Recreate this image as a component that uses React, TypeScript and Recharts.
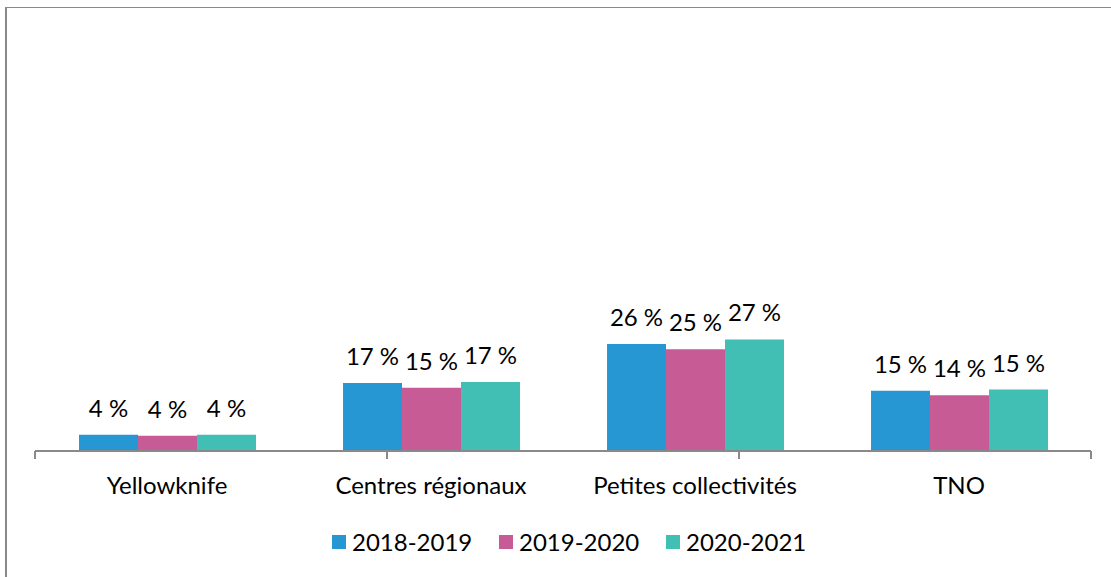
import React from "react";
import { BarChart, Bar, XAxis, YAxis, LabelList, Legend } from "recharts";

const categories = ["Yellowknife", "Centres régionaux", "Petites collectivités", "TNO"];
const seriesNames = ["2018-2019", "2019-2020", "2020-2021"];
const values2018 = [3.97, 16.6, 26.1, 14.7];
const values2019 = [3.73, 15.4, 24.8, 13.6];
const values2020 = [3.98, 16.8, 27.2, 15.0];
const seriesColors = ["#2797D4", "#C65B95", "#42BFB4"];
const boundaryTicks = [0, 1, 2, 3, 4];

const data = categories.map((name, i) => ({
  name,
  [seriesNames[0]]: values2018[i],
  [seriesNames[1]]: values2019[i],
  [seriesNames[2]]: values2020[i],
}));

const fmt = (v: any) => `${Math.round(Number(v))} %`;

const LegendContent = (props: any) => {
  const payload = props.payload || [];
  return (
    <div style={{ display: "flex", alignItems: "center" }}>
      {payload.map((p: any) => (
        <div key={p.value} style={{ width: 167, display: "flex", alignItems: "center" }}>
          <div style={{ width: 14, height: 14, background: p.color, marginRight: 6 }} />
          <span style={{ fontSize: 24, color: "#000", lineHeight: "28px" }}>{p.value}</span>
        </div>
      ))}
    </div>
  );
};

const EmptyTick = () => <g />;

export default function App() {
  return (
    <div
      style={{
        position: "absolute",
        left: 0,
        top: 0,
        width: 1111,
        height: 577,
        fontFamily: "Lato",
        background: "#fff",
        overflow: "hidden",
      }}
    >
      <div
        style={{
          position: "absolute",
          left: 5,
          top: 7,
          width: 1200,
          height: 700,
          borderLeft: "2px solid #898989",
          borderTop: "1px solid #898989",
        }}
      />
      <BarChart
        width={1111}
        height={577}
        data={data}
        margin={{ top: 41, right: 20, bottom: 65, left: 35 }}
        barCategoryGap="16.67%"
        barGap={0}
      >
        <YAxis hide domain={[0, 100]} />
        <XAxis
          xAxisId="a_grid"
          type="number"
          domain={[0, 4]}
          ticks={boundaryTicks}
          height={1}
          axisLine={{ stroke: "#898989", strokeWidth: 2 }}
          tickLine={{ stroke: "#898989", strokeWidth: 2 }}
          tickSize={8}
          tick={EmptyTick}
          allowDataOverflow
        />
        <XAxis
          xAxisId="b_cat"
          dataKey="name"
          height={60}
          axisLine={false}
          tickLine={false}
          tickSize={0}
          tickMargin={25}
          tick={{ fill: "#000", fontSize: 24 }}
          interval={0}
        />
        <Legend
          content={<LegendContent />}
          wrapperStyle={{ position: "absolute", left: 332, top: 528, width: 700, height: 0 }}
        />
        {seriesNames.map((s, i) => (
          <Bar key={s} dataKey={s} xAxisId="b_cat" fill={seriesColors[i]} isAnimationActive={false}>
            <LabelList dataKey={s} position="top" offset={18} formatter={fmt} style={{ fill: "#000", fontSize: 24 }} />
          </Bar>
        ))}
      </BarChart>
    </div>
  );
}
